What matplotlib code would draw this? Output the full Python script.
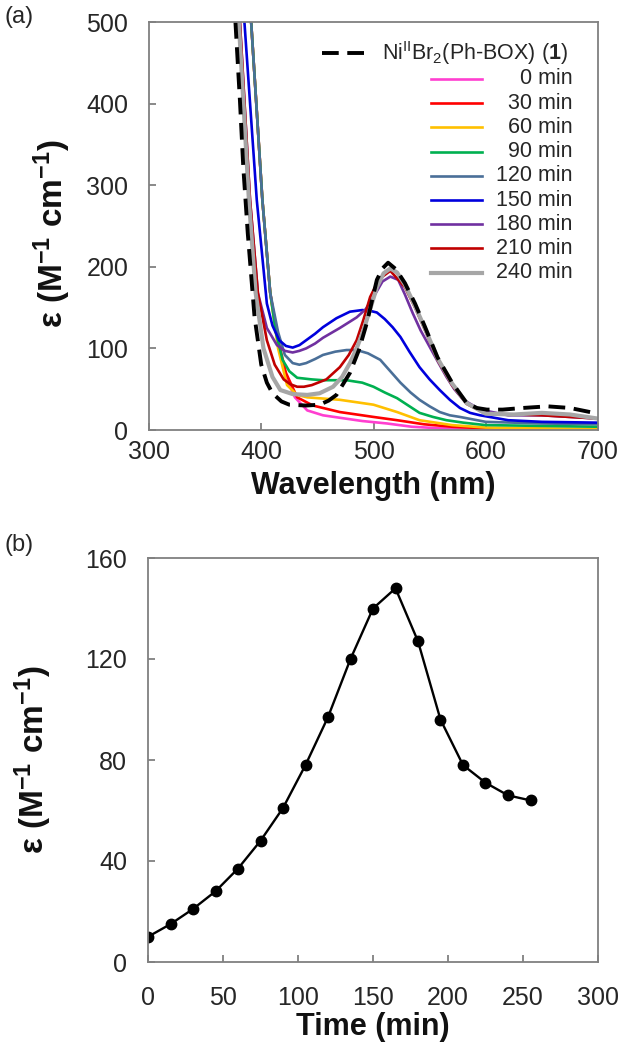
import matplotlib
matplotlib.use("Agg")
import matplotlib.pyplot as plt
from matplotlib.lines import Line2D

plt.rcParams['font.family'] = ['Liberation Sans', 'DejaVu Sans']
plt.rcParams['mathtext.fontset'] = 'custom'
plt.rcParams['mathtext.rm'] = 'Liberation Sans'
plt.rcParams['mathtext.it'] = 'Liberation Sans:italic'
plt.rcParams['mathtext.bf'] = 'Liberation Sans:bold'

# ---- panel (a): UV-vis spectra ----
wl_ref = [377, 381, 384, 388, 394, 400, 405, 410, 418, 425, 440, 452, 460, 467, 479,
          487, 494, 503, 508, 513, 520, 528, 537, 546, 557, 570, 583, 592, 601, 615,
          633, 655, 675, 700]
eps_ref = [500, 404, 322, 241, 139, 80, 58, 45, 35, 31, 30, 31, 36, 43, 70,
           98, 131, 184, 198, 205, 197, 180, 155, 126, 89, 58, 33, 27, 25, 25,
           27, 29, 27, 20]

wl_0 = [391, 401, 408, 415, 422, 430, 441, 455, 470, 490, 512, 534, 560, 600, 650, 700]
eps_0 = [500, 282, 168, 105, 65, 40, 24, 18, 15, 11, 8, 4, 2, 1, 1, 1]

wl_30 = [391, 401, 408, 415, 422, 432, 446, 470, 500, 521, 545, 570, 600, 650, 700]
eps_30 = [500, 282, 168, 110, 70, 40, 30, 22, 16, 12, 7, 4, 2, 1, 1]

wl_60 = [391, 401, 408, 415, 423, 432, 441, 470, 500, 521, 541, 570, 600, 650, 700]
eps_60 = [500, 282, 168, 100, 55, 43, 40, 37, 31, 22, 12, 6, 3, 2, 1]

wl_90 = [391, 401, 408, 413, 419, 425, 432, 445, 455, 476, 490, 500, 510, 521, 531,
         541, 553, 565, 580, 600, 650, 700]
eps_90 = [500, 282, 168, 120, 86, 72, 64, 62, 61, 61, 58, 53, 46, 39, 30,
          21, 16, 12, 9, 6, 5, 4]

wl_120 = [391, 401, 408, 415, 421, 428, 434, 440, 448, 455, 466, 476, 485, 495, 506,
          515, 524, 533, 541, 550, 559, 568, 577, 600, 650, 700]
eps_120 = [500, 282, 168, 120, 92, 82, 80, 82, 87, 92, 96, 98, 98, 94, 86,
           72, 58, 46, 37, 29, 22, 18, 16, 10, 8, 7]

wl_150 = [385, 396, 405, 410, 416, 422, 428, 434, 440, 448, 455, 467, 479, 490, 497,
          503, 510, 517, 524, 532, 541, 550, 559, 568, 577, 586, 595, 620, 650, 700]
eps_150 = [500, 282, 155, 128, 110, 103, 101, 104, 110, 118, 126, 137, 145, 147, 146,
           144, 136, 126, 114, 96, 77, 62, 49, 37, 27, 21, 18, 12, 10, 9]

wl_180 = [381, 390, 397, 405, 414, 421, 428, 434, 440, 448, 455, 470, 485, 493, 500,
          508, 515, 522, 528, 535, 542, 550, 558, 565, 572, 580, 595, 620, 650, 700]
eps_180 = [500, 282, 168, 125, 104, 97, 95, 97, 100, 106, 113, 125, 138, 148, 163,
           182, 188, 184, 166, 143, 122, 102, 82, 65, 50, 37, 25, 18, 18, 14]

wl_210 = [381, 390, 397, 405, 412, 420, 426, 432, 438, 445, 458, 470, 478, 485, 491,
          497, 505, 515, 528, 537, 546, 557, 570, 583, 600, 650, 700]
eps_210 = [500, 282, 168, 110, 80, 62, 56, 53, 53, 55, 62, 77, 92, 110, 135,
           163, 185, 195, 175, 150, 122, 86, 55, 32, 20, 18, 14]

wl_240 = [380, 389, 395, 402, 410, 417, 428, 441, 452, 464, 472, 479, 485, 491, 497,
          503, 509, 515, 521, 528, 537, 546, 557, 570, 583, 600, 625, 650, 675, 700]
eps_240 = [500, 282, 168, 100, 65, 49, 44, 43, 45, 53, 65, 82, 100, 122, 148,
           175, 192, 198, 193, 178, 152, 124, 88, 57, 33, 20, 19, 21, 19, 14]

ref_label = r'Ni$^{\mathrm{II}}$Br$_{2}$(Ph-BOX) ($\mathbf{1}$)'
time_labels = ['0 min', '30 min', '60 min', '90 min', '120 min', '150 min',
               '180 min', '210 min', '240 min']
colors = ['#ff3fd0', '#ff0000', '#ffc000', '#00b050', '#4a6f98', '#0000dd',
          '#7030a0', '#c00000', '#a6a6a6']
spectra = [(wl_0, eps_0), (wl_30, eps_30), (wl_60, eps_60), (wl_90, eps_90),
           (wl_120, eps_120), (wl_150, eps_150), (wl_180, eps_180),
           (wl_210, eps_210), (wl_240, eps_240)]

# ---- panel (b): kinetics ----
t_min = [0, 15, 30, 45, 60, 75, 90, 105, 120, 135, 150, 165, 180, 195, 210, 225, 240, 255]
eps_t = [10, 15, 21, 28, 37, 48, 61, 78, 97, 120, 140, 148, 127, 96, 78, 71, 66, 64]

W, H = 628, 1050
fig = plt.figure(figsize=(W / 100, H / 100), dpi=100)
ax1 = fig.add_axes([149 / W, 1 - 430 / H, 449 / W, 408 / H])
ax2 = fig.add_axes([148 / W, 1 - 962 / H, 450 / W, 404 / H])

spine_col = '#808080'
txt_col = '#262626'
ylab = 'ε (M$^{\\mathbf{-1}}$ cm$^{\\mathbf{-1}}$)'

for ax in (ax1, ax2):
    for s in ax.spines.values():
        s.set_color(spine_col)
        s.set_linewidth(1.3)
    ax.tick_params(direction='in', length=5, width=1.3, color=spine_col,
                   labelsize=18, labelcolor=txt_col)
    ax.tick_params(axis='y', pad=15)

# spectra
for (wl, ep), c in zip(spectra, colors):
    lw = 3.0 if c == '#a6a6a6' else 1.9
    ax1.plot(wl, ep, color=c, lw=lw, solid_capstyle='round')
ax1.plot(wl_ref, eps_ref, color='black', lw=2.8, dashes=(4.3, 2.2))
ax1.set_xlim(300, 700)
ax1.set_ylim(0, 500)
ax1.set_xticks([300, 400, 500, 600, 700])
ax1.set_yticks([0, 100, 200, 300, 400, 500])
ax1.tick_params(axis='x', pad=7)
ax1.set_xlabel('Wavelength (nm)', fontsize=22, fontweight='bold', labelpad=5,
               color='#111111')
ax1.set_ylabel(ylab, fontsize=24, fontweight='bold', color='#111111')
ax1.yaxis.set_label_coords(-0.17, 0.48)

# legend drawn by hand: right-aligned labels
tr = ax1.transAxes
y0 = 1 - (53 - 22) / 408
ax1.add_line(Line2D([0.385, 0.481], [y0, y0], transform=tr, color='black',
                    lw=2.8, dashes=(4.3, 2.2)))
ax1.text(0.52, y0, ref_label, transform=tr, fontsize=15.5, va='center',
         ha='left', color=txt_col)
for i, (lab, c) in enumerate(zip(time_labels, colors)):
    y = 1 - (79 + 24.2 * i - 22) / 408
    ax1.add_line(Line2D([0.628, 0.742], [y, y], transform=tr, color=c,
                        lw=3.0 if c == '#a6a6a6' else 1.9))
    ax1.text(0.944, y, lab, transform=tr, fontsize=15.5, va='center',
             ha='right', color=txt_col)

# kinetics
ax2.plot(t_min, eps_t, color='black', lw=1.7, marker='o', markersize=7.5)
ax2.set_xlim(0, 300)
ax2.set_ylim(0, 160)
ax2.set_xticks([0, 50, 100, 150, 200, 250, 300])
ax2.set_yticks([0, 40, 80, 120, 160])
ax2.tick_params(axis='x', pad=17)
ax2.set_xlabel('Time (min)', fontsize=22, fontweight='bold', labelpad=2,
               color='#111111')
ax2.set_ylabel(ylab, fontsize=24, fontweight='bold', color='#111111')
ax2.yaxis.set_label_coords(-0.21, 0.5)

fig.text(5 / W, 1 - 17 / H, '(a)', fontsize=17, va='center', ha='left', color=txt_col)
fig.text(5 / W, 1 - 545 / H, '(b)', fontsize=17, va='center', ha='left', color=txt_col)

fig.savefig('out.png', dpi=100)
